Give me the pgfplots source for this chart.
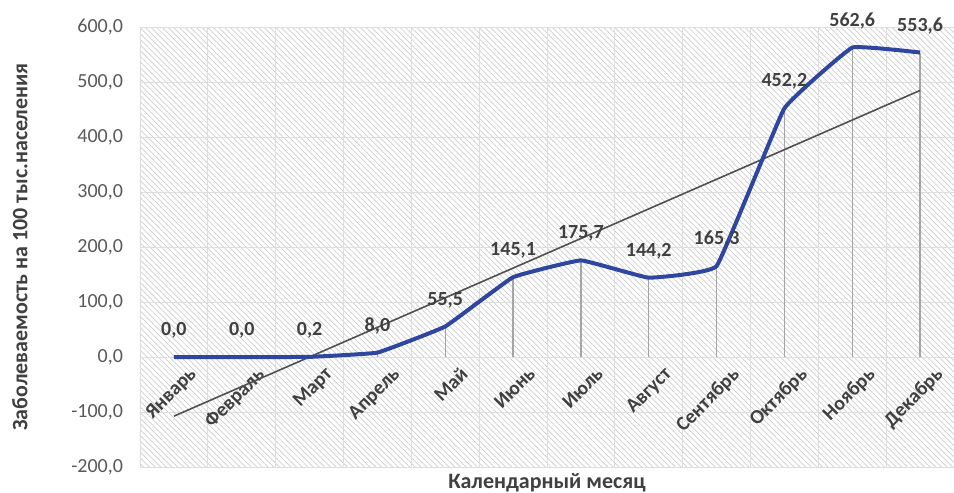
\documentclass[border=0pt]{standalone}
\usepackage{pgfplots}
\pgfplotsset{compat=1.18}
\usepackage{fontspec}
\setmainfont{Carlito}
\usetikzlibrary{patterns.meta}
\definecolor{lineblue}{RGB}{46,70,160}
\definecolor{txt}{RGB}{64,64,64}
\definecolor{ticktxt}{RGB}{89,89,89}
\definecolor{trend}{RGB}{80,80,80}
\definecolor{drop}{RGB}{165,165,165}
\definecolor{gridc}{RGB}{222,222,222}
\definecolor{hatch}{RGB}{205,205,205}
\begin{document}
\begin{tikzpicture}
\begin{axis}[
  at={(0,0)}, anchor=south west,
  scale only axis, width=407pt, height=220pt,
  xmin=-0.5, xmax=11.5, ymin=-200, ymax=600,
  axis x line=middle, axis y line=left,
  axis line style={draw=none,-},
  axis background/.style={pattern={Lines[angle=-45, distance=2pt, line width=0.35pt]}, pattern color=hatch},
  xtick={0,...,11},
  xticklabels={Январь,Февраль,Март,Апрель,Май,Июнь,Июль,Август,Сентябрь,Октябрь,Ноябрь,Декабрь},
  xticklabel style={rotate=45, anchor=north east, font=\bfseries\fontsize{10}{12}\selectfont, text=txt, inner sep=1pt, yshift=-7pt, xshift=3pt},
  minor xtick={-0.5,0.5,...,11.5},
  xminorgrids, minor grid style={gridc, line width=0.4pt},
  ytick={-200,-100,...,600},
  ymajorgrids, major grid style={gridc, line width=0.4pt},
  major tick length=0pt, minor tick length=0pt,
  yticklabel style={font=\fontsize{10}{12}\selectfont, text=ticktxt, xshift=-5pt},
  /pgf/number format/.cd, fixed, fixed zerofill, precision=1, use comma, assume math mode=true,
  clip=false,
]
% drop lines
\addplot[drop, line width=0.6pt, ycomb] coordinates {
(0,0) (1,0) (2,0.2) (3,8.0) (4,55.5) (5,145.1) (6,175.7) (7,144.2) (8,165.3) (9,452.2) (10,562.6) (11,553.6)};
% trend line
\addplot[trend, line width=0.8pt] coordinates {(0,-107.6) (11,484.7)};
% data
\addplot[lineblue, line width=2pt, smooth, tension=0.15,
  nodes near coords={\pgfmathprintnumber[fixed,fixed zerofill,precision=1,use comma,assume math mode=true]{\pgfplotspointmeta}},
  nodes near coords style={anchor=south, yshift=5pt, font=\bfseries\fontsize{10}{12}\selectfont, text=txt},
  point meta=explicit] coordinates {
(0,0)[0] (1,0)[0] (2,0.2)[0.2] (3,8.0)[8.0] (4,55.5)[55.5] (5,145.1)[145.1] (6,175.7)[175.7] (7,144.2)[144.2] (8,165.3)[165.3] (9,452.2)[452.2] (10,562.6)[562.6] (11,553.6)[553.6]};
\node[font=\bfseries\fontsize{11}{13}\selectfont, text=txt] at (rel axis cs:0.5,0) [yshift=-8pt] {Календарный месяц};
\node[font=\bfseries\fontsize{11}{13}\selectfont, text=txt, xshift=-60pt, rotate=90] at (rel axis cs:0,0.5) {Заболеваемость на 100 тыс.населения};
\end{axis}
\pgfresetboundingbox
\path (-70pt,-13pt) rectangle (407pt,233.5pt);
\end{tikzpicture}
\end{document}
